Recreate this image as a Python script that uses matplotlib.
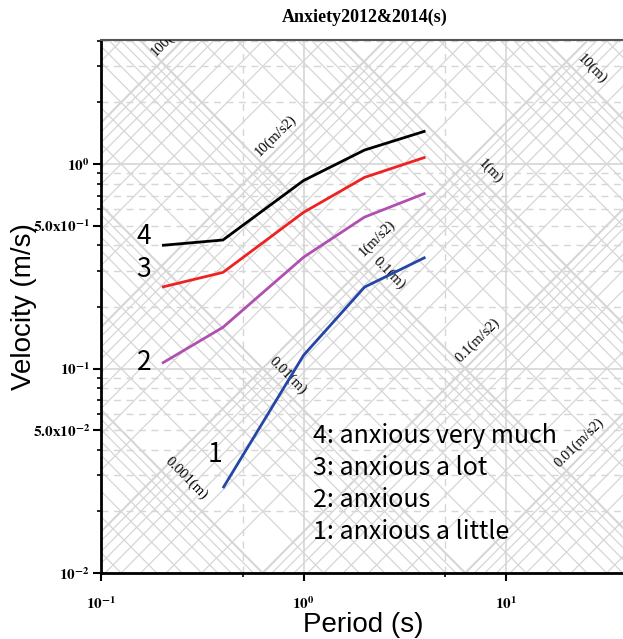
import numpy as np
import matplotlib.pyplot as plt
from matplotlib.ticker import FixedLocator, NullFormatter

plt.rcParams['mathtext.fontset'] = 'stix'

# --- data ---
period = [0.2, 0.4, 1.0, 2.0, 4.0]
vel_4 = [0.40, 0.425, 0.83, 1.17, 1.45]
vel_3 = [0.25, 0.295, 0.58, 0.86, 1.08]
vel_2 = [0.106, 0.159, 0.35, 0.55, 0.72]
period_1 = [0.4, 1.0, 2.0, 4.0]
vel_1 = [0.026, 0.116, 0.25, 0.35]

disp_labels = [0.001, 0.01, 0.1, 1, 10]          # m
acc_labels = [0.01, 0.1, 1, 10, 100]             # m/s2
legend_lines = ['4: anxious very much', '3: anxious a lot',
                '2: anxious', '1: anxious a little']

GRID = '#d6d6d6'
TWO_PI = 2 * np.pi

fig = plt.figure(figsize=(6.23, 6.39), dpi=100)
ax = fig.add_axes([101 / 623, 1 - 573 / 639, 527 / 623, 533 / 639])
ax.set_xscale('log')
ax.set_yscale('log')
ax.set_xlim(0.1, 40)
ax.set_ylim(0.01, 4.04)

# tripartite grid: constant displacement (slope -1) and acceleration (slope +1)
tt = np.array([0.01, 1000.0])
for n in range(-5, 3):
    for k in range(1, 10):
        val = k * 10.0 ** n
        lw = 1.5 if k == 1 else 0.9
        ax.plot(tt, TWO_PI * val / tt, color=GRID, lw=lw, zorder=1)
for n in range(-4, 4):
    for k in range(1, 10):
        val = k * 10.0 ** n
        lw = 1.5 if k == 1 else 0.9
        ax.plot(tt, val * tt / TWO_PI, color=GRID, lw=lw, zorder=1)

# rectangular grid
for x in [1, 10]:
    ax.axvline(x, color=GRID, lw=1.2, zorder=1)
for x in [0.5, 5]:
    ax.axvline(x, color=GRID, lw=1.0, ls=(0, (5, 4)), zorder=1)
for dec in [0.01, 0.1, 1]:
    ax.axhline(dec, color=GRID, lw=1.2, zorder=1)
    for k in range(2, 10):
        ax.axhline(dec * k, color=GRID, lw=1.0, ls=(0, (5, 4)), zorder=1)

# grid labels
for d in disp_labels:
    t = np.sqrt(TWO_PI * d / 0.11)
    ax.annotate(f'{d:g}(m)', (t, TWO_PI * d / t), xytext=(6.5, 6.5),
                textcoords='offset points', rotation=-45, ha='center',
                va='center', fontsize=10.5, family='Liberation Serif',
                zorder=3, annotation_clip=False, clip_on=True)
for a in acc_labels:
    t = np.sqrt(TWO_PI / a)
    ax.annotate(f'{a:g}(m/s2)', (t, a * t / TWO_PI), xytext=(-5.5, 5.5),
                textcoords='offset points', rotation=45, ha='center',
                va='center', fontsize=10.5, family='Liberation Serif',
                zorder=3, annotation_clip=False, clip_on=True)

# curves
series = [(period, vel_4, 'black', '4', (-13, 6.5)),
          (period, vel_3, '#ee2222', '3', (-13, 13)),
          (period, vel_2, '#b04fb0', '2', (-13, 0.7)),
          (period_1, vel_1, '#2546a6', '1', (-6, 24))]
for px, py, col, lab, off in series:
    ax.plot(px, py, color=col, lw=2.0, zorder=4, solid_capstyle='butt')
    ax.annotate(lab, (px[0], py[0]), xytext=off, textcoords='offset points',
                ha='center', va='center', fontsize=19,
                family='Noto Sans CJK JP', zorder=5)

for i, line in enumerate(legend_lines):
    ax.text(0.402, 0.244 - i * 0.06, line, transform=ax.transAxes,
            ha='left', va='baseline', fontsize=18,
            family='Noto Sans CJK JP', zorder=5)

# ticks
ax.xaxis.set_major_locator(FixedLocator([0.1, 1, 10]))
ax.xaxis.set_minor_locator(FixedLocator([0.5, 5]))
ax.xaxis.set_minor_formatter(NullFormatter())
ax.set_xticklabels([r'$\mathbf{10^{-1}}$', r'$\mathbf{10^{0}}$',
                    r'$\mathbf{10^{1}}$'])
ax.yaxis.set_major_locator(FixedLocator([0.01, 0.05, 0.1, 0.5, 1]))
ax.set_yticklabels([r'$\mathbf{10^{-2}}$', r'$\mathbf{5.0x10^{-2}}$',
                    r'$\mathbf{10^{-1}}$', r'$\mathbf{5.0x10^{-1}}$',
                    r'$\mathbf{10^{0}}$'])
yminor = [d * k for d in [0.01, 0.1, 1] for k in [2, 3, 4, 6, 7, 8, 9]]
ax.yaxis.set_minor_locator(FixedLocator(yminor))
ax.yaxis.set_minor_formatter(NullFormatter())
ax.tick_params(axis='both', which='major', direction='out', length=6,
               width=1.5, labelsize=11, colors='black')
ax.tick_params(axis='both', which='minor', direction='out', length=3,
               width=1.2)
ax.tick_params(axis='x', which='major', pad=10)
ax.tick_params(axis='y', which='major', pad=2)

for s in ['left', 'bottom']:
    ax.spines[s].set_linewidth(2)
    ax.spines[s].set_color('black')
ax.spines['top'].set_linewidth(1.5)
ax.spines['top'].set_color('#555555')
ax.spines['right'].set_visible(False)

ax.set_title('Anxiety2012&2014(s)', fontsize=13, fontweight='bold',
             family='Liberation Serif', pad=13)
ax.set_xlabel('Period (s)', fontsize=20, family='Liberation Sans')
ax.xaxis.set_label_coords((363 - 101) / 527, -0.074)
ax.set_ylabel('Velocity (m/s)', fontsize=20, family='Liberation Sans')
ax.yaxis.set_label_coords(-0.121, 0.5)

fig.savefig('out.png', dpi=100, facecolor='white')
